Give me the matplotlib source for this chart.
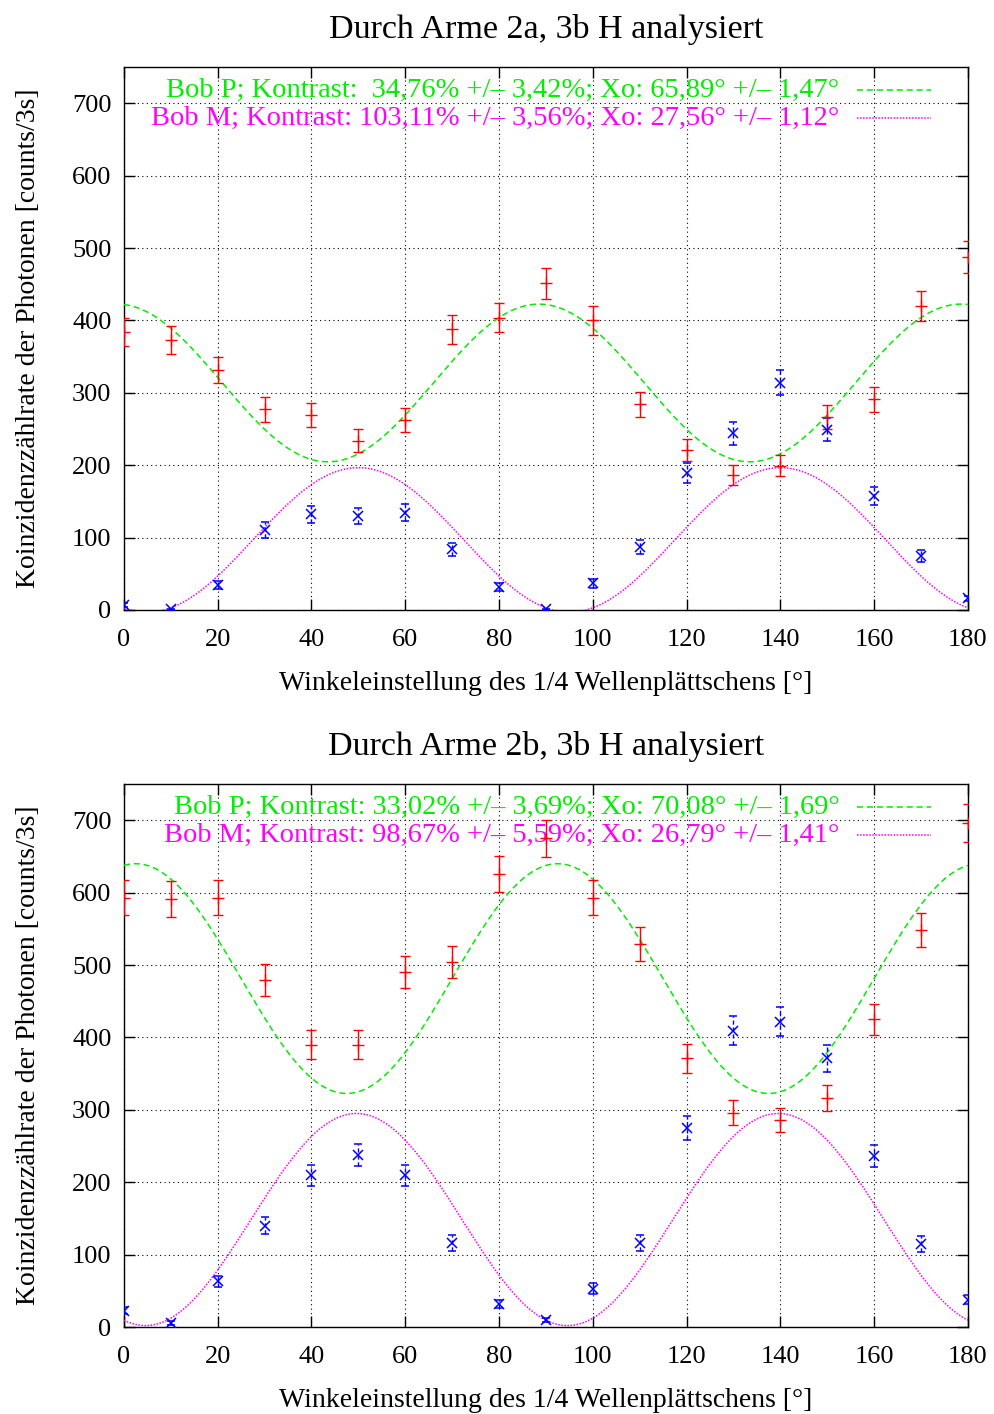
import numpy as np
import matplotlib
matplotlib.use("Agg")
import matplotlib.pyplot as plt

plt.rcParams['font.family'] = ['Liberation Serif', 'DejaVu Serif']

angles = [0, 10, 20, 30, 40, 50, 60, 70, 80, 90, 100, 110, 120, 130, 140, 150, 160, 170, 180]

# Panel 1 (Arme 2a, 3b)
p1_P = [384, 373, 332, 277, 269, 234, 263, 388, 404, 451, 400, 284, 221, 186, 199, 267, 291, 420, 487]
p1_P_err = [20, 19.5, 18, 17, 16.5, 15.5, 16.5, 20, 20, 21, 20, 17, 15, 13.8, 14.5, 16.5, 17, 20.5, 22]
p1_M = [7, 1, 34.5, 110.5, 132, 130, 134.5, 84, 32, 1, 37, 87, 189, 244, 314, 249, 158, 75, 16]
p1_M_err = [3, 1, 6, 10.5, 11.5, 11.5, 11.5, 9, 5.5, 1, 6, 9, 14, 15.5, 17.5, 16, 12.5, 8.5, 4]
# fit curve parameters: mean, amplitude, angle of maximum
p1_fitP = (313.6, 108.9, 88.5)
p1_fitM = (96.8, 99.8, 50.0)
p1_labels = ["Bob P; Kontrast:  34,76% +/\u2013 3,42%; Xo: 65,89\u00b0 +/\u2013 1,47\u00b0",
             "Bob M; Kontrast: 103,11% +/\u2013 3,56%; Xo: 27,56\u00b0 +/\u2013 1,12\u00b0"]
p1_title = "Durch Arme 2a, 3b H analysiert"

# Panel 2 (Arme 2b, 3b)
p2_P = [593, 591, 593, 479, 390, 390, 490, 504, 626, 675, 593, 529, 371, 296, 286, 317, 425, 548, 696]
p2_P_err = [24.5, 24.5, 24.5, 22, 20, 20, 22, 22.5, 25, 26, 24.5, 23, 19.5, 17.5, 17, 18, 21, 23.5, 26.5]
p2_M = [22.5, 5.5, 63, 140, 210, 238, 210, 116, 32, 10, 53, 116, 275, 409, 422, 371, 236, 115, 38]
p2_M_err = [5, 2.5, 8, 12, 14.5, 15.5, 14.5, 11, 5.5, 3, 7.5, 11, 16.5, 20, 20.5, 19, 15.5, 11, 6]
p2_fitP = (481.3, 158.7, 2.5)
p2_fitM = (148.5, 146.5, 49.6)
p2_labels = ["Bob P; Kontrast: 33,02% +/\u2013 3,69%; Xo: 70,08\u00b0 +/\u2013 1,69\u00b0",
             "Bob M; Kontrast: 98,67% +/\u2013 5,59%; Xo: 26,79\u00b0 +/\u2013 1,41\u00b0"]
p2_title = "Durch Arme 2b, 3b H analysiert"

xlabel = "Winkeleinstellung des 1/4 Wellenplättschens [°]"
ylabel = "Koinzidenzzählrate der Photonen [counts/3s]"
xticks = [0, 20, 40, 60, 80, 100, 120, 140, 160, 180]
yticks = [0, 100, 200, 300, 400, 500, 600, 700]

GREEN = '#00ee00'
MAG = '#ff00ff'

fig = plt.figure(figsize=(9.94, 14.14), dpi=100)


def fitcurve(x, params):
    mean, amp, xmax = params
    return mean + amp * np.cos(np.deg2rad(4 * (x - xmax)))


def panel(rect, P, Perr, M, Merr, fitP, fitM, labels, title):
    ax = fig.add_axes(rect)
    ax.set_xlim(0, 180)
    ax.set_ylim(0, 750)
    ax.set_xticks(xticks)
    ax.set_yticks(yticks)
    ax.grid(True, color='black', linestyle=(0, (1, 3)), linewidth=0.8)
    ax.tick_params(direction='in', length=8, width=1, top=True, right=True,
                   labelsize=19)
    ax.tick_params(axis='x', pad=14)
    ax.tick_params(axis='y', pad=9)
    for s in ax.spines.values():
        s.set_linewidth(1.0)
    ax.set_title(title, fontsize=24.5, pad=21)
    ax.set_xlabel(xlabel, fontsize=20)
    ax.set_ylabel(ylabel, fontsize=20)
    ax.xaxis.set_label_coords(0.5, -0.112)
    ax.yaxis.set_label_coords(-0.098, 0.5)

    x = np.linspace(0, 180, 721)
    ax.plot(x, fitcurve(x, fitP), color=GREEN, lw=1.1, linestyle=(0, (4, 2.5)), zorder=3)
    ax.plot(x, fitcurve(x, fitM), color=MAG, lw=1.1, linestyle=(0, (1, 1)), zorder=3)

    ax.errorbar(angles, P, yerr=Perr, fmt='+', color='red', ms=9, mew=1.0,
                elinewidth=1.0, capsize=3.5, capthick=1.0, zorder=4)
    eb = ax.errorbar(angles, M, yerr=Merr, fmt='x', color='blue', ms=7, mew=1.1,
                     elinewidth=1.0, capsize=3, capthick=1.0, zorder=4)
    for c in eb[2]:
        c.set_linestyle((0, (3, 2)))

    # key (gnuplot style: right-aligned text, sample line to the right)
    ys = [0.957, 0.906]
    for lab, col, ls, yy in zip(labels, [GREEN, MAG], [(0, (4, 2.5)), (0, (1, 1))], ys):
        ax.text(0.848, yy, lab, transform=ax.transAxes, ha='right', va='center',
                color=col, fontsize=20.5)
        ax.plot([0.869, 0.956], [yy, yy], transform=ax.transAxes, color=col,
                lw=1.1, linestyle=ls)
    return ax


panel([0.1247, 0.5686, 0.849, 0.384], p1_P, p1_P_err, p1_M, p1_M_err,
      p1_fitP, p1_fitM, p1_labels, p1_title)
panel([0.1247, 0.0615, 0.849, 0.384], p2_P, p2_P_err, p2_M, p2_M_err,
      p2_fitP, p2_fitM, p2_labels, p2_title)

fig.savefig("out.png", dpi=100)
